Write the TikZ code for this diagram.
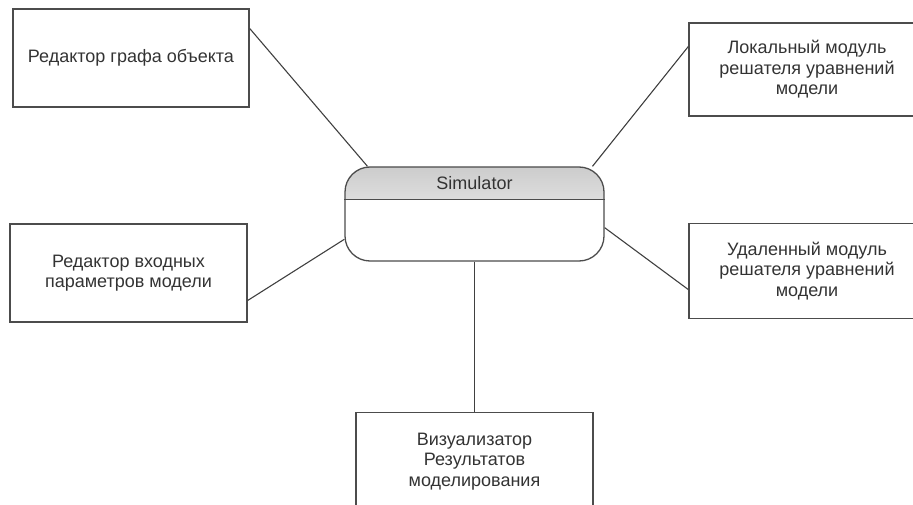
\documentclass[tikz,border=0pt]{standalone}
\usepackage{fontspec}
\setmainfont{Liberation Sans}
\usetikzlibrary{calc}
\usetikzlibrary{positioning}
\tikzstyle{modbox} = [draw=black!70, line width=1.3pt, rectangle, minimum width=236pt, minimum height=98pt, align=center, text=black!80, font=\fontsize{18}{20.5}\selectfont]
\tikzstyle{simnode} = [draw=black!70, line width=1.3pt, rectangle, rounded corners=25pt, minimum width=259pt, minimum height=94pt]
\tikzstyle{link} = [draw=black!75, line width=1.1pt]

\begin{document}
\begin{tikzpicture}[x=1pt, y=1pt]
  \useasboundingbox (0,0) rectangle (913,-505);
  \node[simnode, path picture={
      \shade[sharp corners, top color=black!20, bottom color=white] (path picture bounding box.north west) rectangle ([yshift=-33pt]path picture bounding box.north east);
    }] (sim) at (474.5,-214) {};
  \draw[draw=black!70, line width=1.3pt] ([yshift=-33pt]sim.north west) -- ([yshift=-33pt]sim.north east);
  \node[text=black!80, font=\fontsize{18}{20.5}\selectfont] (simtitle) at ([yshift=-16.5pt]sim.north) {Simulator};

  \node[modbox] (graph) at (131,-58) {Редактор графа объекта};
  \node[modbox, minimum height=93pt] (local) at (807,-69.5) {Локальный модуль\\решателя уравнений\\модели};
  \node[modbox, minimum width=237pt] (input) at (128.5,-273) {Редактор входных\\параметров модели};
  \node[modbox, minimum height=95pt, below=106pt of local] (remote) {Удаленный модуль\\решателя уравнений\\модели};
  \node[modbox, minimum width=237pt, below=150pt of sim] (vis) {Визуализатор\\Результатов\\моделирования};

  \draw[link] (graph.14.7) -- (sim.156.4);
  \draw[link] (local.169.2) -- (sim.22.5);
  \draw[link] (input.-13.3) -- (sim.191.35);
  \draw[link] (remote.189.06) -- (sim.-6.17);
  \draw[link] (sim.south) -- (vis.north);
\end{tikzpicture}
\end{document}
